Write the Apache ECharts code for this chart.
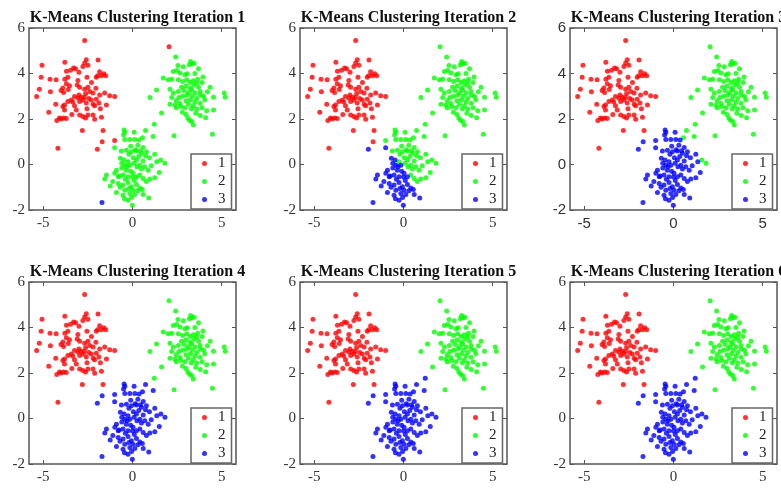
<!DOCTYPE html>
<html>
<head>
<meta charset="utf-8">
<script src="https://cdn.jsdelivr.net/npm/echarts@6/dist/echarts.min.js"></script>
<style>
  html, body { margin: 0; padding: 0; background: #fff; }
  #chart { width: 781px; height: 488px; }
</style>
</head>
<body>
<div id="chart"></div>
<script>
// 数据：左上簇（始终为 1）
var clusterRed = [
  [-2.68,5.45],[-5.07,4.36],[-3.79,4.49],[-2.59,4.60],[-1.93,4.59],[-2.68,4.46],[-2.50,4.36],[-2.78,4.31],
  [-3.30,4.24],[-3.47,4.14],[-3.19,4.21],[-1.84,4.08],[-1.61,3.99],[-1.50,3.90],[-1.74,3.90],[-5.12,3.84],
  [-4.62,3.75],[-4.28,3.72],[-3.79,3.75],[-3.62,3.84],[-2.55,3.84],[-2.03,3.84],[-3.06,3.69],[-3.71,3.55],
  [-3.53,3.46],[-3.90,3.36],[-4.00,3.25],[-3.86,3.17],[-5.22,3.31],[-5.37,2.99],[-2.96,3.40],[-2.68,3.31],
  [-2.50,3.40],[-2.40,3.21],[-2.63,3.11],[-2.21,3.14],[-1.84,3.06],[-1.56,3.14],[-1.28,3.02],[-1.00,2.99],
  [-3.25,2.99],[-3.06,2.92],[-2.87,2.96],[-2.78,2.84],[-2.96,2.77],[-3.43,2.84],[-3.62,2.77],[-3.81,2.62],
  [-3.25,2.58],[-2.59,2.70],[-2.31,2.84],[-2.03,2.87],[-1.88,2.70],[-2.12,2.58],[-1.46,2.62],[-3.81,2.40],
  [-4.69,2.30],[-3.15,2.40],[-2.96,2.18],[-2.78,2.11],[-2.50,2.18],[-2.63,2.04],[-2.21,2.18],[-2.12,1.99],
  [-1.74,2.08],[-4.09,2.04],[-3.86,2.04],[-3.71,2.02],[-4.24,1.93],[-2.81,1.49],[-1.65,1.49],[-4.18,0.71],
  [-3.00,3.05],[-2.70,2.95],[-2.45,2.90],[-3.35,2.75],[-2.20,2.65],[-3.60,3.30],[-4.30,2.65],[-3.90,2.55],
  [-2.05,3.35],[-1.80,2.45],[-4.60,3.20],[-3.10,3.50],[-2.30,3.60],[-3.40,2.20],[-2.55,2.45],[-1.95,3.90],
  [-4.00,2.00],[-3.70,4.10],[-3.00,4.05]
];

// 右上簇（始终为 2）
var clusterGreen = [
  [2.42,4.72],[3.26,4.53],[3.32,4.43],[3.19,4.38],[3.70,4.21],[2.29,4.09],[2.48,4.13],[2.66,4.02],
  [2.94,3.95],[3.07,3.99],[1.73,3.80],[2.01,3.72],[2.20,3.75],[2.57,3.72],[2.81,3.65],[3.04,3.72],
  [3.22,3.60],[3.41,3.68],[3.60,3.58],[4.35,3.40],[5.14,3.14],[5.20,2.96],[1.35,3.28],[0.98,2.95],
  [2.10,3.31],[2.29,3.14],[2.57,3.21],[2.81,3.00],[3.04,3.06],[3.32,3.28],[3.51,3.14],[3.79,3.21],
  [3.98,3.00],[4.54,2.96],[1.63,2.26],[2.10,2.65],[2.38,2.62],[2.66,2.68],[2.94,2.50],[3.13,2.65],
  [3.41,2.58],[3.60,2.44],[3.79,2.69],[4.16,2.36],[4.54,2.40],[3.10,2.04],[3.32,1.89],[3.41,1.74],
  [2.33,1.26],[4.48,1.33],[3.00,3.45],[3.25,3.35],[3.45,3.50],[2.75,3.40],[2.90,3.25],[3.15,3.15],
  [3.35,3.00],[3.60,2.90],[3.80,3.05],[2.60,2.95],[2.45,2.80],[3.00,2.80],[3.25,2.85],[3.50,2.75],
  [3.70,3.40],[3.90,3.60],[4.05,2.85],[2.80,2.30],[3.00,2.20],[3.55,2.25],[3.80,2.15],[2.20,2.95],
  [4.20,3.20],[2.55,4.35],[3.50,4.00],[3.95,3.85],[3.30,2.45],[2.70,2.55],[3.90,2.50],[4.10,2.05],
  [3.20,1.95],[2.45,2.50],[3.65,3.75],[2.85,4.30],[3.45,4.45]
];

// 下方簇：第 2 次迭代起为 3
var lowEarly = [
  [-1.00,0.74],[-0.68,0.27],[-0.47,0.20],[-0.43,-0.03],[-0.15,-0.03],[-0.90,-0.25],[-1.46,-0.46],[-1.55,-0.64],
  [-0.99,-0.39],[-0.80,-0.54],[-0.53,-0.46],[-0.25,-0.54],[0.03,-0.39],[0.22,-0.54],[-0.80,-0.83],[-0.53,-0.90],
  [-0.25,-0.79],[-0.06,-0.98],[0.22,-0.88],[0.41,-1.03],[0.03,-1.13],[-0.43,-1.13],[-0.90,-1.23],[-0.53,-1.35],
  [-0.15,-1.28],[0.13,-1.32],[0.60,-1.32],[0.91,-1.47],[-0.25,-1.57],[-0.01,-1.79],[-0.35,-0.25],[-0.60,-0.15],
  [-0.10,-0.30],[0.10,-0.70],[-0.40,-0.65],[-0.70,-1.00],[-1.10,-0.75],[-0.20,-1.05],[0.30,-1.15],[-0.60,0.05],
  [-0.30,-0.10],[-0.75,-0.50],[-1.25,-0.95],[0.00,-0.55],[-0.45,-1.50],[0.55,-1.10],[-0.05,-1.45]
];
// 第 3 次迭代起为 3
var lowMid = [
  [-0.47,1.52],[-0.43,1.42],[0.09,1.42],[0.37,1.08],[0.13,1.10],[-0.15,1.10],[-0.43,1.10],[-0.62,0.59],
  [-0.34,0.63],[-0.06,0.56],[0.22,0.59],[0.50,0.49],[0.78,0.56],[0.73,0.38],[1.25,0.45],[1.36,0.12],
  [-0.25,0.12],[0.09,0.05],[0.22,0.20],[0.41,-0.03],[0.50,-0.20],[0.69,-0.10],[0.88,-0.25],[0.41,-0.46],
  [0.60,-0.61],[0.78,-0.75],[0.97,-0.64],[1.25,-0.58],[-0.10,0.80],[0.30,0.85],[0.05,0.30],[0.35,0.35],
  [0.60,0.15],[0.95,0.30],[1.05,-0.05],[0.25,-0.10],[-0.50,1.30],[0.60,0.75],[0.45,0.60],[-0.20,0.45],
  [0.15,0.65],[1.50,-0.35]
];
// 第 4 次迭代起为 3
var lowLate = [[0.73,1.49],[0.56,1.18],[1.16,1.23],[1.59,0.20],[1.82,0.05]];

// 其余各点：逐次迭代的类别
var moverPts = [[2.05,5.18],[-1.00,1.05],[-1.70,1.00],[-1.97,0.67],[1.22,1.77],[-1.71,-1.67]];
var moverLabels = ['122222','123333','113333','133333','222233','333333'];

var iterations = [1, 2, 3, 4, 5, 6];
var classNames = ['1', '2', '3'];
var classColors = ['#ff0000', '#00ff00', '#0000ff'];
var xTicks = [-5, 0, 5];

function labelsFor(k) {
  // 返回三个类别各自的点
  var out = [[], [], []];
  clusterRed.forEach(function (p) { out[0].push(p); });
  clusterGreen.forEach(function (p) { out[1].push(p); });
  lowEarly.forEach(function (p) { out[k >= 1 ? 2 : 1].push(p); });
  lowMid.forEach(function (p) { out[k >= 2 ? 2 : 1].push(p); });
  lowLate.forEach(function (p) { out[k >= 3 ? 2 : 1].push(p); });
  moverPts.forEach(function (p, i) { out[parseInt(moverLabels[i][k], 10) - 1].push(p); });
  return out;
}

const chart = echarts.init(document.getElementById('chart'));
const serif = '"Liberation Serif", "Times New Roman", serif';
const axisGray = '#555555';

var lefts = [29, 300, 570];
var tops = [28, 282];
var pw = 207, ph = 182;

var option = {
  backgroundColor: '#ffffff',
  animation: false,
  title: [], grid: [], xAxis: [], yAxis: [], legend: [], series: []
};

iterations.forEach(function (it, k) {
  var col = k % 3, row = Math.floor(k / 3);
  var L = lefts[col], T = tops[row];
  var tickFont = (k === 2) ? '"Liberation Sans", Arial, sans-serif' : serif;

  option.title.push({
    text: 'K-Means Clustering Iteration ' + it,
    left: L + pw / 2, top: T - 23, textAlign: 'center',
    textStyle: { fontFamily: serif, fontWeight: 'bold', fontSize: 16, color: '#111' }
  });
  option.grid.push({
    left: L, top: T, width: pw, height: ph,
    show: true, borderColor: axisGray, borderWidth: 1.5, backgroundColor: '#fff'
  });
  var tickCommon = { show: true, inside: true, length: 4, lineStyle: { color: axisGray, width: 1 } };
  var noLine = { show: false, onZero: false };
  // 下方与上方 x 轴
  option.xAxis.push({
    type: 'value', gridIndex: k, min: -5.8, max: 5.8, position: 'bottom',
    axisLine: noLine, splitLine: { show: false },
    axisTick: Object.assign({ customValues: xTicks }, tickCommon),
    axisLabel: { customValues: xTicks, margin: 6, fontFamily: tickFont, fontSize: 15, color: '#333' }
  });
  option.xAxis.push({
    type: 'value', gridIndex: k, min: -5.8, max: 5.8, position: 'top',
    axisLine: noLine, splitLine: { show: false },
    axisTick: Object.assign({ customValues: xTicks }, tickCommon),
    axisLabel: { show: false }
  });
  option.yAxis.push({
    type: 'value', gridIndex: k, min: -2, max: 6, interval: 2, position: 'left',
    axisLine: noLine, splitLine: { show: false },
    axisTick: tickCommon,
    axisLabel: { margin: 4, fontFamily: tickFont, fontSize: 15, color: '#333' }
  });
  option.yAxis.push({
    type: 'value', gridIndex: k, min: -2, max: 6, interval: 2, position: 'right',
    axisLine: noLine, splitLine: { show: false },
    axisTick: tickCommon, axisLabel: { show: false }
  });

  var groups = labelsFor(k);
  classNames.forEach(function (name, c) {
    option.series.push({
      name: name, type: 'scatter',
      xAxisIndex: k * 2, yAxisIndex: k * 2,
      symbol: 'circle', symbolSize: 5,
      itemStyle: { color: classColors[c] },
      data: groups[c]
    });
  });

  option.legend.push({
    orient: 'vertical',
    left: L + pw - 45, top: T + ph - 56,
    data: classNames,
    icon: 'circle', itemWidth: 5, itemHeight: 5, itemGap: 3,
    padding: [2, 6, 2, 11],
    borderColor: '#666', borderWidth: 1.5, backgroundColor: '#fff',
    selectedMode: false,
    textStyle: { fontFamily: serif, fontSize: 15, color: '#222', padding: [0, 0, 0, 6] }
  });
});

chart.setOption(option);
</script>
</body>
</html>
